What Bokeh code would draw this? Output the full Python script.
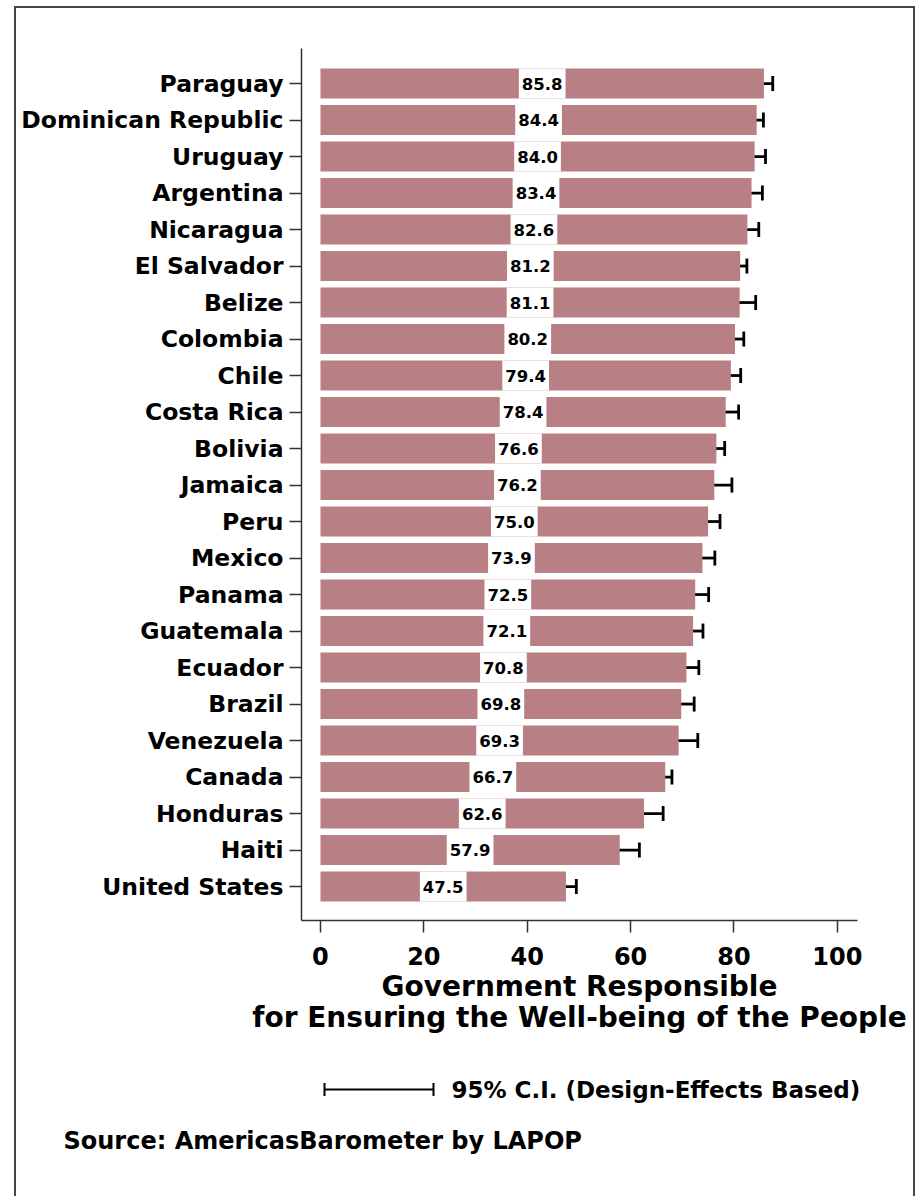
from bokeh.plotting import figure
from bokeh.layouts import column
from bokeh.models import Range1d, FixedTicker, Whisker, TeeHead, ColumnDataSource, Title
from bokeh.core.properties import value
from bokeh.embed import file_html
from bokeh.resources import INLINE

countries = ["Paraguay", "Dominican Republic", "Uruguay", "Argentina", "Nicaragua",
             "El Salvador", "Belize", "Colombia", "Chile", "Costa Rica", "Bolivia",
             "Jamaica", "Peru", "Mexico", "Panama", "Guatemala", "Ecuador", "Brazil",
             "Venezuela", "Canada", "Honduras", "Haiti", "United States"]
values = [85.8, 84.4, 84.0, 83.4, 82.6, 81.2, 81.1, 80.2, 79.4, 78.4, 76.6, 76.2,
          75.0, 73.9, 72.5, 72.1, 70.8, 69.8, 69.3, 66.7, 62.6, 57.9, 47.5]
ci_low = [84.2, 83.0, 82.1, 81.5, 80.5, 80.0, 78.2, 78.6, 77.3, 76.0, 75.1, 72.8,
          73.0, 71.5, 69.9, 70.3, 68.4, 67.4, 65.5, 65.3, 59.0, 54.3, 45.9]
ci_high = [87.5, 85.7, 86.1, 85.5, 84.8, 82.5, 84.2, 81.9, 81.3, 80.9, 78.2, 79.6,
           77.3, 76.3, 75.1, 74.0, 73.2, 72.3, 73.0, 68.0, 66.3, 61.7, 49.5]
x_ticks = [0, 20, 40, 60, 80, 100]
axis_title = ["Government Responsible", "for Ensuring the Well-being of the People"]
legend_text = "95% C.I. (Design-Effects Based)"
source_text = "Source: AmericasBarometer by  LAPOP"

FONT = "DejaVu Sans"
BAR = "#B88084"
n = len(countries)
ypos = [n - 1 - i for i in range(n)]

src = ColumnDataSource(dict(
    y=ypos, v=values, lo=ci_low, hi=ci_high,
    half=[v / 2 for v in values],
    lab=[f"{v:.1f}" for v in values],
))

W = 897
H1 = 1042
p = figure(width=W, height=H1, output_backend="svg", toolbar_location=None,
           x_range=Range1d(-3.67, 103.9), y_range=Range1d(-0.93, 22.96),
           min_border_left=285, min_border_right=56, min_border_top=40,
           min_border_bottom=H1 - 912)
p.frame_align = False
p.outline_line_color = None
p.grid.visible = False
p.background_fill_color = "white"
p.border_fill_color = "white"

p.hbar(y="y", left=0, right="v", height=0.82, source=src,
       fill_color=BAR, line_color=None)

p.add_layout(Whisker(base="y", lower="lo", upper="hi", dimension="width", source=src,
                     line_color="black", line_width=2.8,
                     lower_head=TeeHead(size=15, line_color="black", line_width=2.8),
                     upper_head=TeeHead(size=15, line_color="black", line_width=2.8)))

p.text(x="half", y="y", text="lab", source=src, text_align="center",
       text_baseline="middle", text_font=value(FONT), text_font_style="bold",
       text_font_size="16.5px", text_color="black",
       background_fill_color="white", padding=(3, 9))

p.yaxis.ticker = FixedTicker(ticks=ypos)
p.yaxis.major_label_overrides = {y: c for y, c in zip(ypos, countries)}
p.yaxis.major_tick_out = 12
p.yaxis.major_tick_in = 0
p.yaxis.minor_tick_line_color = None
p.yaxis.major_label_standoff = 6
p.yaxis.major_label_text_font = FONT
p.yaxis.major_label_text_font_style = "bold"
p.yaxis.major_label_text_font_size = "23.5px"
p.yaxis.major_label_text_color = "black"
p.yaxis.axis_line_color = "#333333"
p.yaxis.axis_line_width = 1.5
p.yaxis.major_tick_line_color = "#333333"
p.yaxis.major_tick_line_width = 1.5

p.xaxis.ticker = FixedTicker(ticks=x_ticks)
p.xaxis.major_tick_out = 12
p.xaxis.major_tick_in = 0
p.xaxis.minor_tick_line_color = None
p.xaxis.major_label_standoff = 14
p.xaxis.major_label_text_font = FONT
p.xaxis.major_label_text_font_style = "bold"
p.xaxis.major_label_text_font_size = "24px"
p.xaxis.major_label_text_color = "black"
p.xaxis.axis_line_color = "#333333"
p.xaxis.axis_line_width = 1.5
p.xaxis.major_tick_line_color = "#333333"
p.xaxis.major_tick_line_width = 1.5

# x-axis title: two centred lines below the axis
for line, gap in zip(axis_title, [0, -7]):
    p.add_layout(Title(text=line, align="center", text_font=FONT,
                       text_font_style="bold", text_font_size="28px",
                       text_color="black", standoff=gap), "below")

# lower panel: CI key and source note (pixel coordinates, y downward)
H2 = 1188 - H1
q = figure(width=W, height=H2, output_backend="svg", toolbar_location=None,
           x_range=Range1d(0, W), y_range=Range1d(H2, 0),
           x_axis_type=None, y_axis_type=None,
           min_border_left=0, min_border_right=0, min_border_top=0,
           min_border_bottom=0)
q.frame_align = False
q.outline_line_color = None
q.grid.visible = False
q.background_fill_color = "white"
q.border_fill_color = "white"

q.segment(x0=[308, 308, 417], y0=[39, 32.5, 32.5], x1=[417, 308, 417],
          y1=[39, 45.5, 45.5], line_color="black", line_width=2)
q.text(x=[435], y=[39], text=[legend_text], text_align="left",
       text_baseline="alphabetic", text_font=value(FONT), text_font_style="bold",
       text_font_size="23px", text_color="black")
q.text(x=[47], y=[90], text=[source_text], text_align="left",
       text_baseline="alphabetic", text_font=value(FONT), text_font_style="bold",
       text_font_size="24px", text_color="black")

layout = column(p, q, spacing=0, styles={
    "margin-left": "14px", "margin-top": "6px",
    "border-left": "2px solid #444444", "border-top": "2px solid #444444",
    "border-right": "2px solid #444444"})

open("out.html", "w").write(file_html(layout, INLINE))
